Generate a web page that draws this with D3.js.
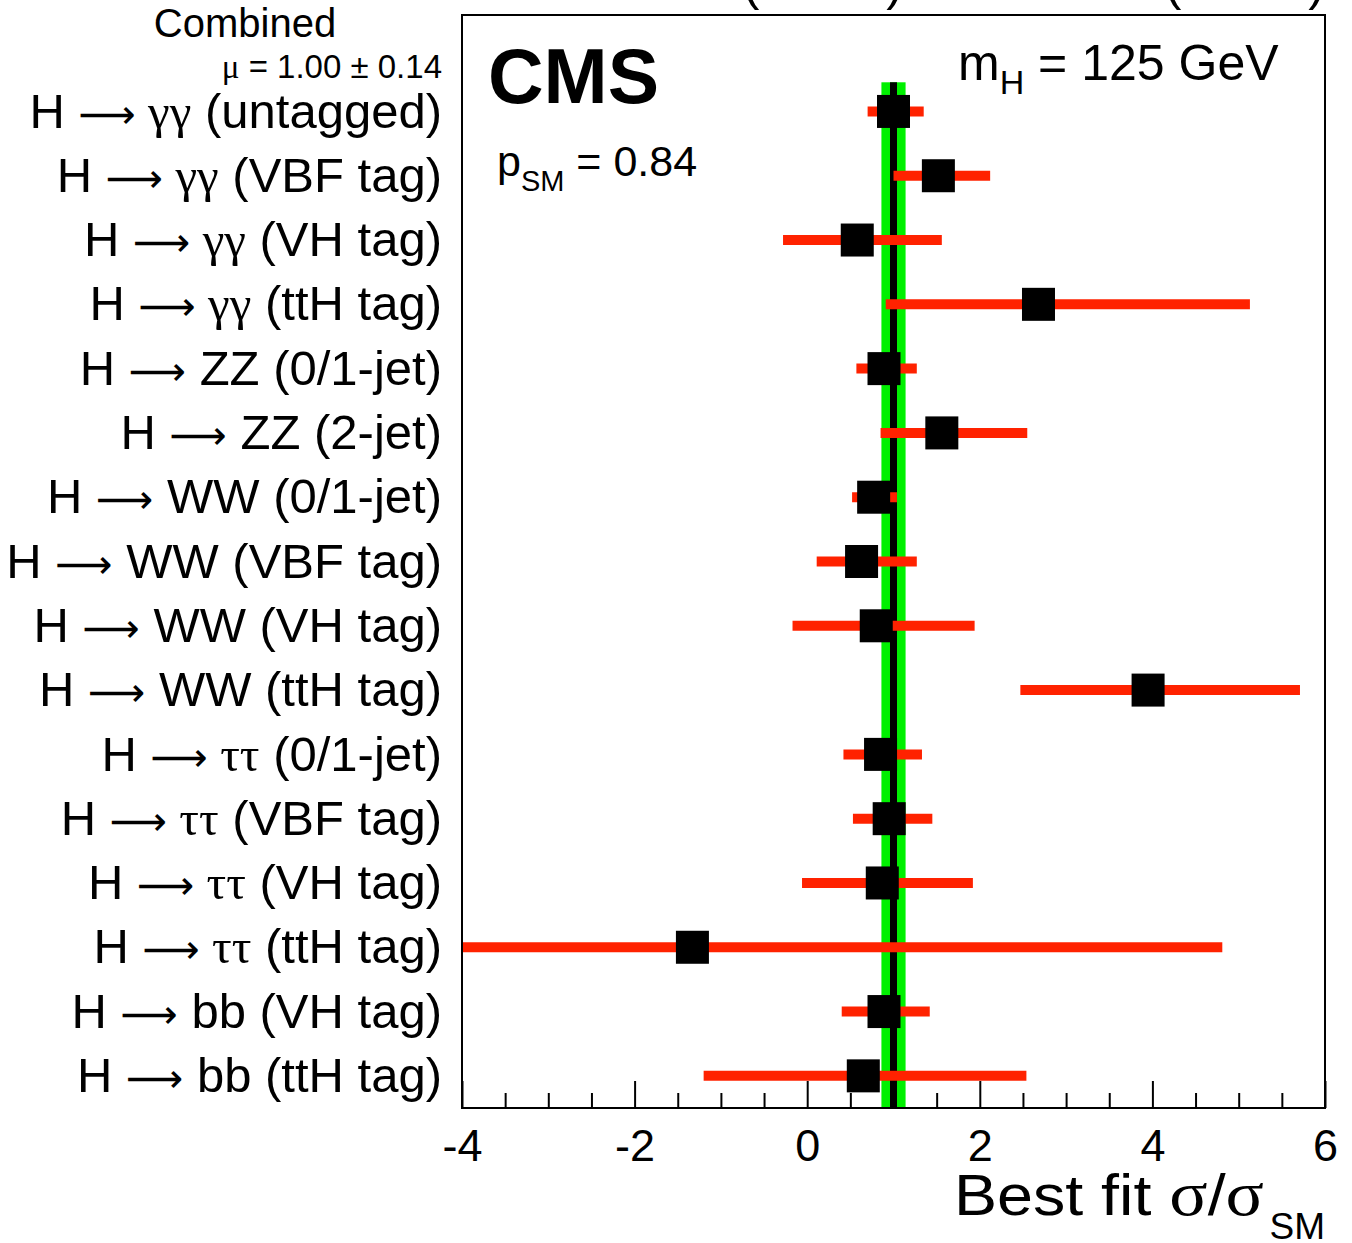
<!DOCTYPE html>
<html>
<head>
<meta charset="utf-8">
<script src="https://cdn.jsdelivr.net/npm/d3@7"></script>
<style>
  html, body { margin: 0; padding: 0; background: #fff; }
  svg { display: block; }
  text { font-family: "Liberation Sans", Arial, Helvetica, sans-serif; fill: #000; }
</style>
</head>
<body>
<svg id="chart" width="1352" height="1243"></svg>
<script>
// ---------------- data ----------------
const decays = ["γγ","γγ","γγ","γγ","ZZ","ZZ","WW","WW","WW","WW","ττ","ττ","ττ","ττ","bb","bb"];
const tags = ["(untagged)","(VBF tag)","(VH tag)","(ttH tag)","(0/1-jet)","(2-jet)",
              "(0/1-jet)","(VBF tag)","(VH tag)","(ttH tag)","(0/1-jet)","(VBF tag)",
              "(VH tag)","(ttH tag)","(VH tag)","(ttH tag)"];
const bestFit = [1.00, 1.52, 0.58, 2.68, 0.89, 1.56, 0.77, 0.63, 0.80, 3.95, 0.85, 0.95, 0.87, -1.33, 0.89, 0.65];
const lower   = [0.70, 1.00, -0.28, 0.91, 0.57, 0.85, 0.52, 0.11, -0.17, 2.47, 0.42, 0.53, -0.06, -6.8, 0.40, -1.20];
const upper   = [1.35, 2.12, 1.56, 5.13, 1.27, 2.55, 1.04, 1.27, 1.94, 5.71, 1.33, 1.45, 1.92, 4.81, 1.42, 2.54];
const combinedMu = 1.00;
const combinedErr = 0.14;
const pSM = "0.84";
const xMajorTicks = [-4, -2, 0, 2, 4, 6];
const xDomain = [-4, 6];

// ---------------- layout ----------------
const svg = d3.select("#chart");
const X0 = 462, X1 = 1325, Y0 = 15, Y1 = 1108;
const rows = ["Combined"].concat(decays.map((d, i) => "r" + i));
const x = d3.scaleLinear().domain(xDomain).range([X0, X1]);
const y = d3.scaleBand().domain(rows).range([Y0, Y1]).padding(0);
const yc = i => y("r" + i) + y.bandwidth() / 2;

const RED = "#ff2200", GREEN = "#00f000";

svg.append("defs").append("clipPath").attr("id", "frameClip")
  .append("rect").attr("x", X0).attr("y", Y0).attr("width", X1 - X0).attr("height", Y1 - Y0);

// top (cut off) luminosity text
svg.append("text").attr("x", 903).attr("y", 0).attr("text-anchor", "end")
  .style("font-size", "50px").text("19.7 fb⁻¹ (8 TeV)");
svg.append("text").attr("x", 937).attr("y", 0).attr("text-anchor", "middle")
  .style("font-size", "50px").text("+");
svg.append("text").attr("x", X1).attr("y", 0).attr("text-anchor", "end")
  .style("font-size", "50px").text("5.1 fb⁻¹ (7 TeV)");

const plot = svg.append("g").attr("clip-path", "url(#frameClip)");

// combined band & line
const bandTop = y("Combined") + y.bandwidth() + 3;
plot.append("rect")
  .attr("x", x(combinedMu - combinedErr)).attr("width", x(combinedMu + combinedErr) - x(combinedMu - combinedErr))
  .attr("y", bandTop).attr("height", Y1 - bandTop).attr("fill", GREEN);
plot.append("line")
  .attr("x1", x(combinedMu)).attr("x2", x(combinedMu))
  .attr("y1", bandTop).attr("y2", Y1)
  .attr("stroke", "#000").attr("stroke-width", 7);

// error bars
plot.selectAll("line.err").data(bestFit).enter().append("line")
  .attr("class", "err")
  .attr("x1", (d, i) => x(lower[i])).attr("x2", (d, i) => x(upper[i]))
  .attr("y1", (d, i) => yc(i)).attr("y2", (d, i) => yc(i))
  .attr("stroke", RED).attr("stroke-width", 10);

// markers
const MS = 33;
plot.selectAll("rect.pt").data(bestFit).enter().append("rect")
  .attr("class", "pt")
  .attr("x", d => x(d) - MS / 2).attr("y", (d, i) => yc(i) - MS / 2)
  .attr("width", MS).attr("height", MS).attr("fill", "#000");

// frame
svg.append("rect").attr("x", X0).attr("y", Y0).attr("width", X1 - X0).attr("height", Y1 - Y0)
  .attr("fill", "none").attr("stroke", "#000").attr("stroke-width", 2);

// x axis: minor ticks
const minorTicks = d3.range(xDomain[0], xDomain[1] + 0.001, 0.5).filter(v => !xMajorTicks.includes(v));
const axisMinor = d3.axisBottom(x).tickValues(minorTicks).tickSize(-15).tickFormat("");
const gMinor = svg.append("g").attr("transform", `translate(0,${Y1})`).call(axisMinor);
gMinor.select(".domain").remove();
gMinor.selectAll("line").attr("stroke-width", 2);

const axisMajor = d3.axisBottom(x).tickValues(xMajorTicks).tickSize(-27).tickPadding(21)
  .tickFormat(d => String(d));
const gMajor = svg.append("g").attr("transform", `translate(0,${Y1})`).call(axisMajor);
gMajor.select(".domain").remove();
gMajor.selectAll("line").attr("stroke-width", 2);
gMajor.selectAll("text").style("font-size", "45px")
  .style("font-family", '"Liberation Sans", Arial, sans-serif').attr("fill", "#000");

// x axis title
const xt = svg.append("text").attr("x", 954).attr("y", 1215)
  .attr("textLength", 310).attr("lengthAdjust", "spacingAndGlyphs")
  .style("font-size", "58px");
xt.append("tspan").text("Best fit ");
xt.append("tspan").style("font-family", '"Liberation Serif", serif').style("font-size", "64px").text("σ");
xt.append("tspan").text("/");
xt.append("tspan").style("font-family", '"Liberation Serif", serif').style("font-size", "64px").text("σ");
svg.append("text").attr("x", X1).attr("y", 1239).attr("text-anchor", "end")
  .style("font-size", "37px").text("SM");

// y labels
const greek = s => /[γτ]/.test(s);
const labels = svg.append("g");
decays.forEach((dcy, i) => {
  const t = labels.append("text").attr("x", 442).attr("y", yc(i)).attr("dy", "0.33em")
    .attr("text-anchor", "end").style("font-size", "49px");
  t.append("tspan").text("H ");
  t.append("tspan").style("font-family", '"DejaVu Sans", sans-serif').style("font-size", "40px").text("⟶");
  const dt = t.append("tspan").text(" " + dcy);
  if (greek(dcy)) dt.style("font-family", '"Liberation Serif", serif');
  t.append("tspan").text(" " + tags[i]);
});

// combined header
svg.append("text").attr("x", 245).attr("y", 37).attr("text-anchor", "middle")
  .style("font-size", "40px").text("Combined");
const mt = svg.append("text").attr("x", 442).attr("y", 78).attr("text-anchor", "end")
  .style("font-size", "33px");
mt.append("tspan").style("font-family", '"Liberation Serif", serif').text("μ");
mt.append("tspan").text(` = ${combinedMu.toFixed(2)} ± ${combinedErr.toFixed(2)}`);

// CMS
svg.append("text").attr("x", 488).attr("y", 103).style("font-size", "77px")
  .style("font-weight", "bold").text("CMS");

// mH
const mh = svg.append("text").attr("x", 958).attr("y", 80).style("font-size", "50px");
mh.append("tspan").text("m");
mh.append("tspan").attr("dy", 14).style("font-size", "34px").text("H");
mh.append("tspan").attr("dy", -14).text(" = 125 GeV");

// pSM
const ps = svg.append("text").attr("x", 497).attr("y", 176).style("font-size", "43px");
ps.append("tspan").text("p");
ps.append("tspan").attr("dy", 15).style("font-size", "29px").text("SM");
ps.append("tspan").attr("dy", -15).text(" = " + pSM);
</script>
</body>
</html>
